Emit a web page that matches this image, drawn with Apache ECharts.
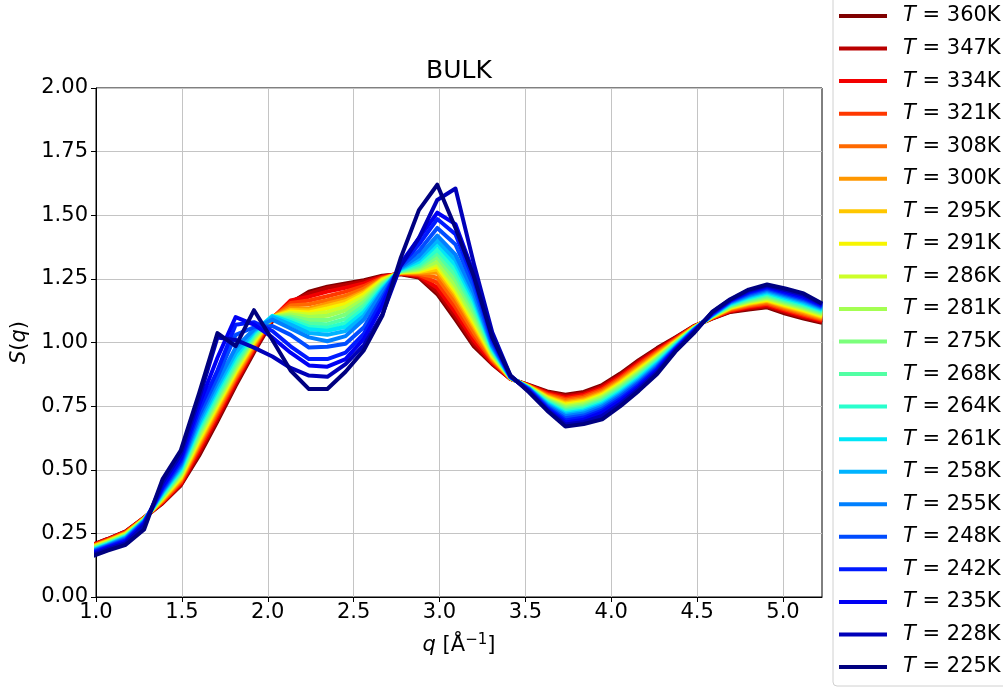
<!DOCTYPE html>
<html>
<head>
<meta charset="utf-8">
<script src="https://cdn.jsdelivr.net/npm/echarts@6/dist/echarts.min.js"></script>
<style>
  html, body { margin: 0; padding: 0; background: #fff; }
  #chart { width: 1003px; height: 687px; }
</style>
</head>
<body>
<div id="chart"></div>
<script>
// Scattering vector grid q [1/Å]
const qValues = [0.960, 1.067, 1.173, 1.280, 1.387, 1.493, 1.600, 1.707, 1.813, 1.920,
  2.027, 2.133, 2.240, 2.347, 2.453, 2.560, 2.667, 2.773, 2.880, 2.987,
  3.093, 3.200, 3.307, 3.413, 3.520, 3.627, 3.733, 3.840, 3.947, 4.053,
  4.160, 4.267, 4.373, 4.480, 4.587, 4.693, 4.800, 4.907, 5.013, 5.120, 5.227];

// Temperatures (legend order) and their line colours
const temps = ['360K', '347K', '334K', '321K', '308K', '300K', '295K', '291K', '286K', '281K',
  '275K', '268K', '264K', '261K', '258K', '255K', '248K', '242K', '235K', '228K', '225K'];
const colors = ['#800000', '#b90000', '#f30000', '#ff3800', '#ff6a00', '#ff9700', '#ffc700',
  '#f7f500', '#cdff29', '#a4ff52', '#7bff7b', '#52ffa4', '#29ffcd', '#00e6f7', '#00b3ff',
  '#0080ff', '#004cff', '#001aff', '#0000f3', '#0000b9', '#000080'];

// S(q) for each temperature
const S360 = [0.200,0.228,0.258,0.312,0.368,0.438,0.555,0.690,0.830,0.962,1.085,1.155,1.200,1.219,1.232,1.245,1.262,1.268,1.255,1.190,1.090,0.985,0.915,0.857,0.833,0.808,0.795,0.806,0.833,0.878,0.931,0.978,1.020,1.064,1.094,1.120,1.130,1.138,1.114,1.094,1.077];
const S347 = [0.199,0.227,0.257,0.311,0.370,0.441,0.565,0.700,0.838,0.968,1.090,1.160,1.192,1.214,1.226,1.240,1.260,1.270,1.258,1.200,1.102,0.995,0.918,0.857,0.832,0.805,0.790,0.801,0.828,0.873,0.926,0.974,1.018,1.063,1.095,1.122,1.134,1.142,1.119,1.099,1.081];
const S334 = [0.198,0.226,0.256,0.311,0.372,0.445,0.575,0.710,0.846,0.974,1.095,1.165,1.180,1.200,1.215,1.232,1.258,1.272,1.262,1.215,1.118,1.008,0.922,0.858,0.831,0.801,0.784,0.795,0.822,0.867,0.920,0.969,1.015,1.062,1.096,1.124,1.138,1.147,1.124,1.104,1.085];
const S321 = [0.196,0.224,0.254,0.310,0.375,0.450,0.585,0.720,0.855,0.980,1.098,1.155,1.165,1.182,1.200,1.222,1.255,1.272,1.266,1.235,1.138,1.025,0.928,0.858,0.830,0.797,0.778,0.789,0.816,0.861,0.914,0.964,1.012,1.061,1.097,1.127,1.142,1.152,1.129,1.109,1.089];
const S308 = [0.195,0.223,0.252,0.309,0.378,0.455,0.595,0.730,0.863,0.986,1.100,1.145,1.150,1.166,1.184,1.212,1.252,1.273,1.270,1.255,1.158,1.040,0.933,0.859,0.829,0.793,0.772,0.783,0.810,0.855,0.908,0.959,1.009,1.060,1.098,1.130,1.146,1.157,1.134,1.114,1.093];
const S300 = [0.194,0.221,0.250,0.308,0.381,0.460,0.602,0.738,0.870,0.992,1.100,1.135,1.134,1.153,1.170,1.202,1.250,1.274,1.274,1.275,1.178,1.058,0.938,0.859,0.828,0.789,0.766,0.777,0.804,0.849,0.902,0.954,1.006,1.059,1.099,1.133,1.150,1.162,1.139,1.119,1.097];
const S295 = [0.192,0.220,0.249,0.307,0.384,0.465,0.610,0.746,0.878,0.998,1.100,1.128,1.126,1.144,1.162,1.196,1.248,1.275,1.277,1.287,1.190,1.068,0.943,0.860,0.827,0.786,0.761,0.772,0.799,0.844,0.897,0.950,1.004,1.058,1.100,1.135,1.153,1.165,1.143,1.123,1.101];
const S291 = [0.190,0.218,0.247,0.306,0.387,0.470,0.618,0.754,0.885,1.004,1.100,1.122,1.118,1.134,1.152,1.190,1.245,1.276,1.280,1.298,1.200,1.078,0.948,0.860,0.826,0.783,0.756,0.767,0.794,0.839,0.892,0.946,1.002,1.057,1.101,1.137,1.156,1.168,1.147,1.127,1.105];
const S286 = [0.189,0.216,0.245,0.305,0.390,0.475,0.626,0.762,0.893,1.010,1.100,1.116,1.110,1.120,1.140,1.180,1.240,1.277,1.284,1.308,1.212,1.088,0.953,0.861,0.825,0.780,0.751,0.762,0.789,0.834,0.887,0.942,1.000,1.056,1.102,1.139,1.159,1.172,1.151,1.131,1.109];
const S281 = [0.187,0.214,0.243,0.304,0.393,0.480,0.634,0.770,0.900,1.016,1.100,1.110,1.100,1.105,1.126,1.170,1.235,1.278,1.288,1.318,1.225,1.100,0.958,0.861,0.824,0.777,0.746,0.757,0.784,0.829,0.882,0.938,0.998,1.055,1.103,1.141,1.162,1.176,1.155,1.135,1.113];
const S275 = [0.185,0.212,0.241,0.303,0.396,0.486,0.645,0.780,0.910,1.022,1.100,1.102,1.088,1.088,1.110,1.158,1.230,1.280,1.294,1.335,1.245,1.118,0.963,0.862,0.823,0.773,0.740,0.751,0.778,0.823,0.876,0.933,0.995,1.054,1.104,1.144,1.166,1.181,1.160,1.140,1.117];
const S268 = [0.183,0.210,0.239,0.302,0.400,0.492,0.655,0.790,0.920,1.028,1.100,1.095,1.075,1.072,1.093,1.145,1.225,1.282,1.300,1.350,1.265,1.135,0.968,0.862,0.822,0.769,0.734,0.745,0.772,0.817,0.870,0.928,0.992,1.053,1.105,1.147,1.170,1.186,1.165,1.145,1.121];
const S264 = [0.181,0.208,0.237,0.301,0.404,0.498,0.665,0.802,0.932,1.034,1.102,1.088,1.062,1.058,1.077,1.132,1.218,1.284,1.308,1.365,1.285,1.150,0.973,0.863,0.821,0.765,0.728,0.739,0.766,0.811,0.864,0.923,0.989,1.052,1.106,1.150,1.174,1.191,1.170,1.150,1.125];
const S261 = [0.179,0.206,0.235,0.300,0.408,0.504,0.675,0.815,0.945,1.040,1.105,1.080,1.052,1.046,1.062,1.120,1.212,1.287,1.318,1.385,1.305,1.165,0.978,0.863,0.820,0.761,0.722,0.733,0.760,0.805,0.858,0.918,0.986,1.051,1.107,1.153,1.178,1.196,1.175,1.155,1.129];
const S258 = [0.177,0.204,0.233,0.299,0.412,0.510,0.685,0.828,0.960,1.046,1.100,1.070,1.037,1.030,1.045,1.105,1.205,1.290,1.328,1.400,1.325,1.180,0.983,0.864,0.819,0.757,0.716,0.727,0.754,0.799,0.852,0.913,0.983,1.050,1.108,1.156,1.182,1.201,1.180,1.160,1.133];
const S255 = [0.175,0.202,0.230,0.297,0.416,0.517,0.700,0.845,0.980,1.052,1.090,1.055,1.020,1.005,1.025,1.090,1.198,1.293,1.340,1.420,1.345,1.195,0.988,0.864,0.818,0.753,0.710,0.721,0.748,0.793,0.846,0.908,0.980,1.049,1.109,1.159,1.186,1.206,1.185,1.165,1.137];
const S248 = [0.172,0.199,0.226,0.294,0.421,0.525,0.715,0.865,1.030,1.060,1.065,1.030,0.980,0.983,0.995,1.060,1.180,1.298,1.360,1.450,1.385,1.220,0.998,0.865,0.816,0.748,0.702,0.713,0.740,0.786,0.840,0.902,0.977,1.047,1.111,1.162,1.191,1.211,1.190,1.170,1.141];
const S242 = [0.169,0.196,0.222,0.291,0.428,0.535,0.735,0.890,1.070,1.080,1.045,0.985,0.935,0.935,0.960,1.035,1.165,1.303,1.385,1.485,1.425,1.245,1.008,0.866,0.814,0.743,0.694,0.705,0.732,0.778,0.833,0.896,0.974,1.045,1.113,1.164,1.196,1.216,1.195,1.175,1.145];
const S235 = [0.166,0.193,0.218,0.287,0.435,0.545,0.755,0.940,1.100,1.070,1.020,0.960,0.910,0.905,0.935,1.015,1.145,1.310,1.410,1.510,1.465,1.270,1.018,0.867,0.811,0.738,0.686,0.697,0.724,0.770,0.826,0.890,0.971,1.043,1.115,1.166,1.200,1.220,1.200,1.180,1.149];
const S228 = [0.161,0.188,0.212,0.280,0.448,0.560,0.780,1.020,1.010,0.980,0.945,0.900,0.870,0.865,0.915,0.990,1.110,1.300,1.410,1.560,1.605,1.310,1.040,0.870,0.808,0.735,0.678,0.688,0.712,0.760,0.818,0.883,0.967,1.040,1.118,1.168,1.204,1.224,1.206,1.187,1.151];
const S225 = [0.155,0.182,0.205,0.265,0.462,0.575,0.800,1.037,0.986,1.127,1.010,0.890,0.817,0.817,0.885,0.970,1.105,1.330,1.520,1.620,1.450,1.260,1.020,0.870,0.805,0.732,0.670,0.680,0.698,0.750,0.810,0.876,0.964,1.036,1.120,1.170,1.208,1.228,1.212,1.193,1.153];

const curves = [S360, S347, S334, S321, S308, S300, S295, S291, S286, S281, S275,
  S268, S264, S261, S258, S255, S248, S242, S235, S228, S225];

// Axis ticks
const xTicks = [1.0, 1.5, 2.0, 2.5, 3.0, 3.5, 4.0, 4.5, 5.0];
const yTicks = [0, 0.25, 0.5, 0.75, 1.0, 1.25, 1.5, 1.75, 2.0];

const FONT = 'DejaVu Sans';

const chart = echarts.init(document.getElementById('chart'), null, { renderer: 'canvas' });

const series = curves.map((vals, k) => ({
  name: temps[k],
  type: 'line',
  data: qValues.map((q, i) => [q, vals[i]]),
  symbol: 'none',
  showSymbol: false,
  clip: true,
  color: colors[k],
  lineStyle: { width: 4, color: colors[k], join: 'round', cap: 'butt' },
  emphasis: { disabled: true },
  animation: false
}));

chart.setOption({
  animation: false,
  backgroundColor: '#fff',
  textStyle: { fontFamily: FONT },
  grid: {
    left: 96, top: 88, right: 181, bottom: 90,
    show: true, borderColor: '#000', borderWidth: 1,
    outerBoundsMode: 'none', containLabel: false
  },
  graphic: [{
    type: 'text', x: 459, y: 71, silent: true,
    style: { text: 'BULK', fill: '#000', font: '25px "DejaVu Sans"', textAlign: 'center', textVerticalAlign: 'middle' }
  }],
  xAxis: {
    type: 'value', min: 1.0, max: 5.227, interval: 0.5,
    name: '{i|q} [Å{sup|−1}]',
    nameLocation: 'middle', nameGap: 36,
    nameTextStyle: {
      color: '#000', fontSize: 21, fontFamily: FONT,
      rich: {
        i: { fontStyle: 'italic', fontSize: 21, fontFamily: FONT, color: '#000' },
        sup: { fontSize: 15, fontFamily: FONT, color: '#000', verticalAlign: 'top', padding: [0, 0, 10, 0] }
      }
    },
    axisLine: { show: true, onZero: false, lineStyle: { color: '#000', width: 1 } },
    axisTick: { show: true, length: 5, inside: false, customValues: xTicks, lineStyle: { color: '#000', width: 1 } },
    axisLabel: {
      customValues: xTicks, margin: 5, color: '#000', fontSize: 21, fontFamily: FONT,
      formatter: v => v.toFixed(1)
    },
    splitLine: { show: true, lineStyle: { color: '#c4c4c4', width: 1 } }
  },
  yAxis: {
    type: 'value', min: 0, max: 2, interval: 0.25,
    name: '{i|S}({i|q})',
    nameLocation: 'middle', nameGap: 60, nameRotate: 90,
    nameTextStyle: {
      color: '#000', fontSize: 21, fontFamily: FONT,
      rich: { i: { fontStyle: 'italic', fontSize: 21, fontFamily: FONT, color: '#000' } }
    },
    axisLine: { show: true, lineStyle: { color: '#000', width: 1 } },
    axisTick: { show: true, length: 5, inside: false, lineStyle: { color: '#000', width: 1 } },
    axisLabel: {
      margin: 8, color: '#000', fontSize: 21, fontFamily: FONT,
      formatter: v => v.toFixed(2)
    },
    splitLine: { show: true, lineStyle: { color: '#c4c4c4', width: 1 } }
  },
  legend: {
    orient: 'vertical', left: 833, top: -6,
    padding: [11, 30, 8, 6],
    itemWidth: 48, itemHeight: 4, itemGap: 10.55,
    icon: 'rect',
    selectedMode: false,
    borderColor: '#d0d0d0', borderWidth: 1, borderRadius: 4,
    backgroundColor: 'rgba(255,255,255,0.8)',
    data: temps,
    formatter: name => '{i|T} = ' + name,
    textStyle: {
      color: '#000', fontSize: 21, fontFamily: FONT, lineHeight: 22,
      padding: [0, 0, 0, 11],
      rich: { i: { fontStyle: 'italic', fontSize: 21, fontFamily: FONT, color: '#000', lineHeight: 22 } }
    }
  },
  series: series
});
</script>
</body>
</html>
